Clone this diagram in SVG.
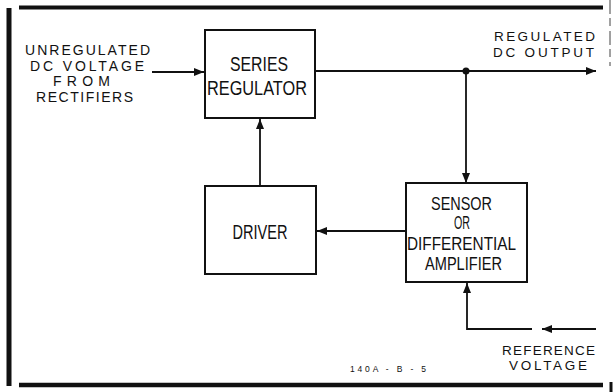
<svg xmlns="http://www.w3.org/2000/svg" width="614" height="392" viewBox="0 0 614 392">
<defs>
<style>
.bg{fill:#ffffff}
.box{fill:#ffffff;stroke:#111;stroke-width:2}
.ln{fill:none;stroke:#111;stroke-width:1.8}
.frame{fill:none;stroke:#111;stroke-linecap:butt}
.bt{font-family:"Liberation Sans",Arial,sans-serif;font-size:21px;fill:#111;text-anchor:middle}
.st{font-family:"Liberation Sans",Arial,sans-serif;font-size:18.5px;fill:#111;text-anchor:middle}
.lt{font-family:"Liberation Sans",Arial,sans-serif;font-size:14px;fill:#111;text-anchor:middle}
.rt{font-family:"Liberation Sans",Arial,sans-serif;font-size:13.5px;fill:#111;text-anchor:middle}
.sm{font-family:"Liberation Sans",Arial,sans-serif;font-size:8.5px;fill:#111;text-anchor:middle}
</style>
<marker id="ah" viewBox="0 0 10 8" refX="10" refY="4" markerWidth="10" markerHeight="8" markerUnits="userSpaceOnUse" orient="auto">
<path d="M0,0 L10,4 L0,8 Z" fill="#111"/>
</marker>
</defs>
<rect class="bg" x="0" y="0" width="614" height="392"/>
<g id="frame">
<line class="frame" x1="9" y1="8" x2="9" y2="386" stroke-width="5"/>
<line class="frame" x1="19" y1="7.5" x2="603" y2="7.5" stroke-width="4"/>
<line class="frame" x1="19" y1="385" x2="603" y2="385" stroke-width="4.5"/>
<line class="frame" x1="610" y1="0" x2="610" y2="66" stroke="#999" stroke-width="0.8" stroke-dasharray="14 4 8 5"/>
<line class="frame" x1="611" y1="382" x2="611" y2="392" stroke-width="3"/>
</g>
<g id="connectors">
<line class="ln" x1="152" y1="72" x2="204" y2="72" marker-end="url(#ah)"/>
<line class="ln" x1="316" y1="71" x2="596" y2="71" marker-end="url(#ah)"/>
<circle cx="466" cy="71" r="3.5" fill="#111"/>
<line class="ln" x1="466" y1="71" x2="466" y2="183" marker-end="url(#ah)"/>
<line class="ln" x1="406" y1="231" x2="317" y2="231" marker-end="url(#ah)"/>
<line class="ln" x1="260" y1="186" x2="260" y2="119" marker-end="url(#ah)"/>
<polyline class="ln" points="532,329 467,329 467,283" marker-end="url(#ah)"/>
<line class="ln" x1="596" y1="329" x2="542" y2="329" marker-end="url(#ah)"/>
</g>
<g id="series-regulator">
<rect class="box" x="205" y="30" width="110" height="88"/>
<text class="bt" x="259" y="71" textLength="58" lengthAdjust="spacingAndGlyphs">SERIES</text>
<text class="bt" x="257" y="95" textLength="100" lengthAdjust="spacingAndGlyphs">REGULATOR</text>
</g>
<g id="driver">
<rect class="box" x="205" y="186" width="111" height="88"/>
<text class="bt" x="260" y="239" textLength="55" lengthAdjust="spacingAndGlyphs">DRIVER</text>
</g>
<g id="sensor">
<rect class="box" x="406" y="183" width="121" height="99"/>
<text class="st" x="461.5" y="210" textLength="61" lengthAdjust="spacingAndGlyphs">SENSOR</text>
<text class="st" x="462" y="229" textLength="16" lengthAdjust="spacingAndGlyphs">OR</text>
<text class="st" x="461.5" y="250" textLength="109" lengthAdjust="spacingAndGlyphs">DIFFERENTIAL</text>
<text class="st" x="463.5" y="270" textLength="77" lengthAdjust="spacingAndGlyphs">AMPLIFIER</text>
</g>
<g id="input-label">
<text class="lt" x="87.5" y="55" textLength="125" lengthAdjust="spacing">UNREGULATED</text>
<text class="lt" x="87" y="71" textLength="114" lengthAdjust="spacing">DC VOLTAGE</text>
<text class="lt" x="81.5" y="86" textLength="57" lengthAdjust="spacing">FROM</text>
<text class="lt" x="84.5" y="102" textLength="97" lengthAdjust="spacing">RECTIFIERS</text>
</g>
<g id="output-label">
<text class="rt" x="544.5" y="41" textLength="101" lengthAdjust="spacing">REGULATED</text>
<text class="rt" x="543.5" y="57" textLength="101" lengthAdjust="spacing">DC OUTPUT</text>
</g>
<g id="reference-label">
<text class="rt" x="548.5" y="355" textLength="93" lengthAdjust="spacing">REFERENCE</text>
<text class="rt" x="548" y="370" textLength="78" lengthAdjust="spacing">VOLTAGE</text>
</g>
<text class="sm" x="388" y="372" textLength="76" lengthAdjust="spacing">140A - B - 5</text>
</svg>
